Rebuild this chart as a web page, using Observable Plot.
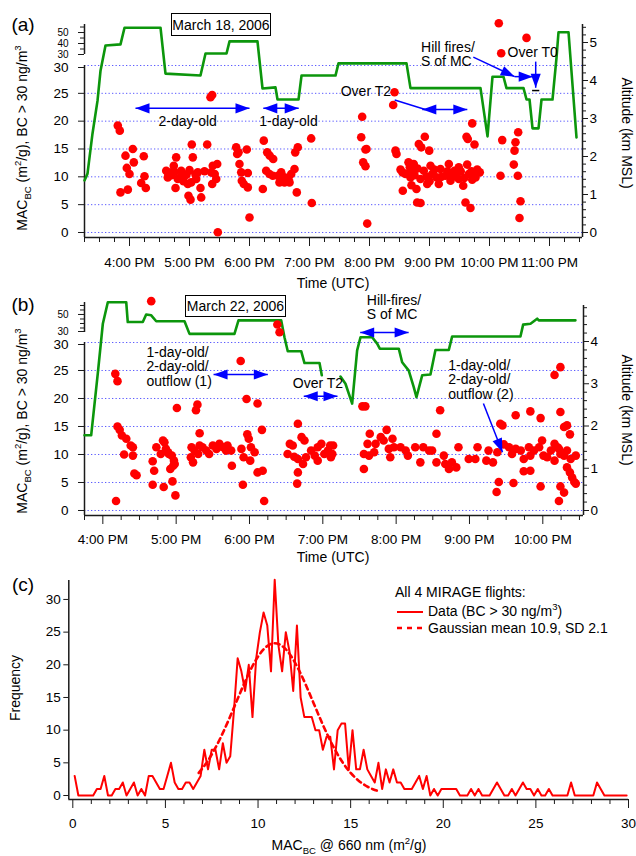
<!DOCTYPE html>
<html>
<head>
<meta charset="utf-8">
<script src="https://cdn.jsdelivr.net/npm/d3@7"></script>
<script src="https://cdn.jsdelivr.net/npm/@observablehq/plot@0.6"></script>
<style>
  html,body{margin:0;padding:0;background:#fff;}
  #root{position:relative;width:636px;height:856px;overflow:hidden;background:#fff;font-family:"Liberation Sans",Arial,Helvetica,sans-serif;color:#000;}
  #root > svg{position:absolute;left:0;top:0;}
  .t{position:absolute;white-space:nowrap;line-height:1;z-index:5;}
  .t sub,.t sup{font-size:0.68em;line-height:0;}
  .box{position:absolute;border:1.5px solid #000;box-sizing:border-box;display:flex;align-items:center;justify-content:center;font-size:14px;background:#fff;z-index:5;}
</style>
</head>
<body>
<div id="root"></div>
<script>
// ---------------- DATA ----------------
// Panel (a) March 18, 2006
const aTickHours = [16,17,18,19,20,21,22,23];
const aTickLabels = ["4:00 PM","5:00 PM","6:00 PM","7:00 PM","8:00 PM","9:00 PM","10:00 PM","11:00 PM"];
const aAltHour = [15.25,15.30,15.383,15.467,15.517,15.60,15.85,15.917,16.517,16.60,17.183,17.267,17.617,17.667,18.133,18.217,18.433,18.467,18.817,18.867,19.433,19.483,20.617,20.683,21.85,21.967,22.05,22.233,22.283,22.567,22.617,22.667,22.717,22.817,22.867,23.05,23.117,23.15,23.317,23.45];
const aAltKm = [1.37,1.55,2.6,3.47,4.26,4.92,4.95,5.39,5.39,4.18,4.13,4.71,4.71,5.03,5.03,3.79,3.82,3.5,3.5,4.13,4.13,4.45,4.45,3.8,3.8,2.53,4.1,4.1,3.8,3.8,3.5,3.5,2.74,2.74,3.5,3.5,4.6,5.27,5.27,2.5];
const aTime = [15.805,15.838,15.85,16.055,15.933,16.072,16.238,15.955,16.0,16.25,16.195,16.272,15.972,
16.612,16.638,16.738,16.778,16.695,16.805,16.862,16.917,17.055,17.038,16.767,16.972,17.028,16.983,17.017,17.138,17.112,17.183,17.195,17.295,17.35,17.378,17.362,17.388,17.462,17.445,17.378,17.472,
16.7,16.75,16.85,16.9,16.95,17.0,17.1,16.65,17.25,17.42,
17.778,17.795,17.817,17.955,17.833,17.862,17.972,17.872,17.905,17.972,18.0,
18.238,18.295,18.338,18.395,18.278,18.333,18.388,18.222,18.472,18.528,18.583,18.65,18.695,18.75,18.5,18.583,18.667,18.762,18.805,18.788,19.028,19.038,
19.878,19.862,19.933,19.95,19.895,19.933,19.962,
20.417,20.395,20.433,20.45,
20.517,20.6,20.672,20.683,20.85,20.905,20.962,21.017,21.045,21.117,21.155,21.183,21.267,21.322,21.35,21.417,21.488,21.488,21.562,21.628,21.655,21.712,21.795,21.838,21.767,
20.555,20.795,20.85,20.783,20.922,20.822,20.862,20.995,20.738,20.712,
21.6,21.683,21.617,21.638,21.75,21.712,
20.55,20.75,20.8,20.95,21.08,21.2,21.3,21.38,21.45,21.52,21.58,21.7,21.75,20.65,20.7,21.0,
22.155,22.617,22.195,
22.212,22.183,22.478,22.433,22.417,22.405,22.472,22.517,22.5];
const aMac = [19.2,18.3,7.2,15.0,13.8,12.6,13.7,11.6,10.5,10.1,8.9,8.0,7.7,
11.1,9.9,12.0,13.5,10.8,9.6,11.1,10.2,13.5,15.8,8.0,8.7,9.0,6.6,5.9,10.8,9.6,8.0,6.3,15.8,24.3,24.7,10.8,12.0,12.3,9.6,8.7,0.05,
10.3,10.9,10.0,9.2,10.4,11.2,10.4,10.5,11.0,10.5,
15.3,14.1,14.4,14.9,12.3,10.8,10.7,9.3,8.7,8.1,2.7,
16.5,14.4,13.8,13.2,11.1,10.5,10.2,7.8,10.2,10.8,9.9,9.6,10.5,11.4,9.0,9.0,9.0,14.4,15.3,7.2,16.9,5.3,
20.8,17.1,14.9,15.0,12.6,11.9,1.6,
25.2,22.9,14.7,14.1,
11.3,10.5,11.7,9.9,9.6,11.1,8.7,12.0,10.5,9.9,8.7,11.4,10.2,12.3,9.3,11.1,11.7,9.6,8.4,12.2,10.5,9.5,11.3,10.8,9.9,
7.5,5.4,5.3,7.8,17.2,15.9,15.3,14.7,12.3,11.1,
5.4,4.4,17.2,16.8,15.8,19.6,
10.8,10.3,11.5,10.0,11.3,10.0,11.0,10.4,10.0,11.0,9.8,11.0,10.4,12.6,8.5,9.2,
58.5,45.1,31.2,
16.6,10.2,18.0,16.2,14.7,12.2,10.2,5.6,2.6];

// Panel (b) March 22, 2006
const bTickHours = [16,17,18,19,20,21,22];
const bTickLabels = ["4:00 PM","5:00 PM","6:00 PM","7:00 PM","8:00 PM","9:00 PM","10:00 PM"];
const bAltHour = [15.75,15.841,15.931,16.0,16.068,16.319,16.34,16.545,16.591,16.66,16.728,17.114,17.182,17.795,17.85,18.432,18.477,18.522,18.705,18.75,18.955,18.986,19.1,19.241,19.309,19.4,19.468,19.514,19.673,19.741,19.777,20.036,20.082,20.172,20.24,20.277,20.355,20.468,20.536,20.718,20.764,21.695,21.732,21.832,21.923,21.945,22.445];
const bAltKm = [1.78,1.78,3.24,4.42,4.93,4.93,4.46,4.46,4.64,4.62,4.48,4.48,4.18,4.18,4.5,4.5,4.1,3.77,3.77,3.49,3.49,3.2,NaN,3.17,3.0,2.53,3.79,4.1,4.1,3.95,3.83,3.83,3.51,3.31,2.92,2.68,3.2,3.22,3.8,3.8,4.12,4.12,4.4,4.42,4.54,4.5,4.5];
const bTime = [16.66,
16.17,16.20,16.20,16.23,16.26,16.32,16.38,16.41,16.29,16.41,16.43,16.46,16.18,
16.68,16.73,16.79,16.84,16.86,16.89,16.94,16.97,16.98,16.92,16.70,16.68,16.83,16.95,16.99,17.01,16.82,16.90,16.96,
17.21,17.25,17.20,17.23,17.30,17.32,17.36,17.41,17.45,17.50,17.55,17.59,17.64,17.68,17.70,17.75,
17.29,17.27,17.32,17.76,
17.88,17.96,18.11,17.97,17.99,17.89,17.92,18.02,18.07,18.01,18.11,18.18,18.17,17.91,18.20,
18.38,18.41,
18.66,18.55,18.59,18.71,18.75,18.52,18.61,18.66,18.73,18.77,18.84,18.89,18.93,18.98,19.02,19.07,19.11,19.14,18.93,18.66,18.65,19.10,19.13,
19.54,19.58,19.64,19.61,19.56,19.63,19.56,
19.72,19.79,19.83,19.87,19.90,19.95,19.92,19.97,19.70,20.06,20.13,20.16,
20.26,20.33,20.37,20.45,20.49,20.55,20.55,20.60,
20.65,20.67,20.72,20.76,20.82,20.85,21.11,20.99,21.08,21.23,21.26,21.32,21.38,21.42,21.45,21.40,21.37,
21.47,21.54,21.58,21.63,21.70,21.74,21.81,21.83,21.88,21.95,21.99,22.01,22.06,22.11,22.16,22.22,22.29,22.33,22.38,22.45,
21.63,21.83,21.97,22.24,
21.74,21.83,21.60,21.97,22.22,22.29,22.24,
22.16,22.24,
22.29,22.33,22.37,
22.33,22.37,22.40,22.43,22.45,
22.16,22.20,22.24];
const bMac = [64.8,
24.4,23.1,15.0,14.4,13.4,12.8,11.6,11.3,10.0,9.8,6.6,6.3,1.7,
8.8,11.3,10.1,12.2,11.0,10.4,9.8,8.9,8.3,7.4,7.1,4.6,4.2,5.2,2.7,18.3,12.5,10.1,8.0,
11.3,10.7,9.5,8.6,10.1,11.6,11.3,10.7,10.1,11.6,11.0,11.9,11.3,10.7,11.6,10.7,
18.9,17.9,13.8,8.0,
26.7,19.9,19.1,13.6,12.8,11.0,9.5,11.3,10.4,8.9,6.8,7.1,14.4,4.6,1.7,
38.9,30.3,
15.5,11.9,11.6,13.1,12.5,10.1,9.6,9.2,8.3,9.5,10.7,9.8,11.3,11.9,10.1,10.7,9.5,11.6,8.9,6.8,4.8,11.6,10.1,
18.6,18.6,13.7,11.9,10.1,9.8,7.4,
11.9,13.1,12.5,14.4,11.0,12.8,9.5,11.3,10.4,11.3,10.7,9.8,
11.3,8.6,11.3,10.7,10.7,8.6,13.7,17.9,
9.8,8.3,7.4,8.6,7.7,11.3,11.3,9.2,9.2,8.9,10.7,8.6,10.4,15.5,15.2,5.1,3.3,
11.8,11.3,10.1,11.0,10.7,9.2,11.3,9.8,10.7,11.3,12.5,9.8,9.5,10.7,8.9,11.0,9.8,10.7,9.2,9.8,
17.0,17.7,16.5,17.6,
7.0,7.1,4.9,4.3,1.7,3.2,4.3,
24.2,25.6,
14.9,15.2,13.6,
7.7,6.8,5.9,5.1,4.8,
11.9,11.3,10.1];

// Panel (c) histogram, all 4 MIRAGE flights
const histBin = [0.1,0.3,0.5,0.7,0.9,1.1,1.3,1.5,1.7,1.9,
2.1,2.3,2.5,2.7,2.9,3.1,3.3,3.5,3.7,3.9,
4.1,4.3,4.5,4.7,4.9,5.1,5.3,5.5,5.7,5.9,
6.1,6.3,6.5,6.7,6.9,7.1,7.3,7.5,7.7,7.9,
8.1,8.3,8.5,8.7,8.9,9.1,9.3,9.5,9.7,9.9,
10.1,10.3,10.5,10.7,10.9,11.1,11.3,11.5,11.7,11.9,
12.1,12.3,12.5,12.7,12.9,13.1,13.3,13.5,13.7,13.9,
14.1,14.3,14.5,14.7,14.9,15.1,15.3,15.5,15.7,15.9,
16.1,16.3,16.5,16.7,16.9,17.1,17.3,17.5,17.7,17.9,
18.1,18.3,18.5,18.7,18.9,19.1,19.3,19.5,19.7,19.9,
20.1,20.3,20.5,20.7,20.9,21.1,21.3,21.5,21.7,21.9,
22.1,22.3,22.5,22.7,22.9,23.1,23.3,23.5,23.7,23.9,
24.1,24.3,24.5,24.7,24.9,25.1,25.3,25.5,25.7,25.9,
26.1,26.3,26.5,26.7,26.9,27.1,27.3,27.5,27.7,27.9,
28.1,28.3,28.5,28.7,28.9,29.1,29.3,29.5,29.7,29.9];
const histCount = [3,0,0,0,0,0,1,1,3,0,
0,1,1,2,0,1,2,0,1,0,
3,3,2,1,1,3,5,2,1,1,
2,2,1,2,3,7,4,7,7,4,
8,5,6,13,21,19,16,20,12,21,
25,28,26,19,33,23,19,25,22,16,
26,15,12,12,12,10,10,7,9,9,
4,10,11,11,4,10,4,4,7,4,
3,2,5,1,4,2,4,2,2,1,
1,1,2,3,1,3,0,1,0,1,
1,1,1,1,0,0,0,1,0,1,
0,0,0,1,2,1,0,0,1,0,
1,2,1,1,0,1,0,0,1,0,
0,0,0,0,2,0,0,0,0,0,
0,2,1,0,0,0,0,0,0,0];
const gaussX = [6.8,7.2,7.6,8.0,8.4,8.8,9.2,9.6,10.0,10.4,10.9,11.4,11.8,12.2,12.6,13.0,13.4,13.8,14.2,14.6,15.0,15.4,15.8,16.2,16.6];
const gaussY = [3.46,4.93,6.78,8.98,11.47,14.13,16.79,19.24,21.26,22.65,23.3,22.65,21.26,19.24,16.79,14.13,11.47,8.98,6.78,4.93,3.46,2.35,1.53,0.96,0.59];
const macTicks = [0,5,10,15,20,25,30];
const histXTicks = [0,5,10,15,20,25,30];
const histYTicks = [0,5,10,15,20,25,30];

// ---------------- BUILD ----------------
const zip2 = (xs, ys, kx, ky) => { const n = Math.min(xs.length, ys.length); const out = []; for (let i = 0; i < n; i++) out.push({[kx]: xs[i], [ky]: ys[i]}); return out; };
const aPts = zip2(aTime, aMac, "t", "mac");
const bPts = zip2(bTime, bMac, "t", "mac");
const aAlt = zip2(aAltHour, aAltKm, "t", "km");
const bAlt = zip2(bAltHour, bAltKm, "t", "km");
const hist = zip2(histBin, histCount, "x", "n");
const gauss = zip2(gaussX, gaussY, "x", "n");

const FONT = '"Liberation Sans", Arial, Helvetica, sans-serif';
const W = 636, H = 856;
const AX = "#1a1a1a";
const RED = "#ff0000";
const GREEN = "#0c960c";
const BLUE = "#0000ff";
const GRID = "#5b5bff";
const root = document.getElementById("root");

function add(opts) {
  const svg = Plot.plot(Object.assign({width: W, height: H,
    style: {background: "transparent", fontFamily: FONT, fontSize: "13.5px", color: "#000", overflow: "visible"}}, opts));
  root.appendChild(svg);
  return svg;
}
const HEAD = {draw(ctx, size) { const l = Math.sqrt(size / Math.PI); const w = l * 0.36;
  ctx.moveTo(0, 0); ctx.lineTo(-l, -w); ctx.lineTo(-l, w); ctx.closePath(); }};
function arrowMarks(segs) {
  const heads = [];
  segs.forEach(s => {
    if (s.a1 != null) heads.push({x: s.x1, y: s.y1, rot: s.a1});
    if (s.a2 != null) heads.push({x: s.x2, y: s.y2, rot: s.a2});
  });
  return [
    Plot.link(segs, {x1: "x1", y1: "y1", x2: "x2", y2: "y2", stroke: BLUE, strokeWidth: 1.5}),
    Plot.dot(heads, {x: "x", y: "y", rotate: "rot", symbol: HEAD, r: 14, fill: BLUE, stroke: "none"})
  ];
}
function timeAxes(ticks, labels, minor, tickPad) {
  return [
    Plot.axisX(ticks, {anchor: "bottom", tickSize: 9, tickPadding: tickPad, fontSize: 13.5, label: null, stroke: AX,
      tickFormat: d => labels[ticks.indexOf(d)]}),
    Plot.axisX(minor, {anchor: "bottom", tickSize: 5, tickFormat: () => "", label: null, stroke: AX})
  ];
}
function macAxis() {
  return [
    Plot.axisY(macTicks.filter(v => v < 30), {anchor: "left", tickSize: 6, tickPadding: 10, fontSize: 13.5, label: null, stroke: AX}),
    Plot.axisY([30], {anchor: "left", tickSize: 6, tickPadding: 10, fontSize: 13.5, label: null, stroke: AX, dy: 2})
  ];
}

// ===== Panel (a) =====
const aX = [15.25, 23.55], aY = [-0.9, 30], aUp = [30, 57.3], aAltDom = [-0.1316, 5.474];
const aM = {marginLeft: 84, marginRight: 54};
const aMinor = d3.range(15.25, 23.51, 0.25).filter(h => Math.abs(h - Math.round(h)) > 0.01);
add({...aM, marginTop: 65, marginBottom: H - 237, x: {domain: aX}, y: {domain: aY},
  marks: [
    Plot.ruleY(macTicks, {stroke: GRID, strokeWidth: 1, strokeDasharray: "1.3,2.2"}),
    Plot.ruleX([aX[0]], {y1: aY[0], y2: 30, stroke: AX, strokeWidth: 1.5}),
    Plot.ruleY([aY[0]], {stroke: AX, strokeWidth: 1.5}),
    ...macAxis(),
    ...timeAxes(aTickHours, aTickLabels, aMinor, 11),
    Plot.dot(aPts.filter(d => d.mac <= 30), {x: "t", y: "mac", r: 4.3, fill: RED})
  ]});
add({...aM, marginTop: 24, marginBottom: H - 237, x: {domain: aX, axis: null}, y: {domain: aAltDom},
  marks: [
    Plot.line(aAlt, {x: "t", y: "km", stroke: GREEN, strokeWidth: 2.6}),
    Plot.ruleX([aX[1]], {y1: aAltDom[0], y2: aAltDom[1], stroke: AX, strokeWidth: 1.5}),
    Plot.axisY([0,1,2,3,4,5], {anchor: "right", tickSize: 5, tickPadding: 2, fontSize: 13.5, label: null, stroke: AX}),
    Plot.axisY(d3.range(0.2, 5.41, 0.2).filter(v => Math.abs(v - Math.round(v)) > 0.01), {anchor: "right", tickSize: 3, tickFormat: () => "", label: null, stroke: AX})
  ]});
add({...aM, marginTop: 24, marginBottom: H - 54, x: {domain: aX, axis: null}, y: {domain: aUp},
  marks: [
    Plot.ruleX([aX[0]], {y1: aUp[0], y2: aUp[1], stroke: AX, strokeWidth: 1.5}),
    Plot.axisY([30, 40, 50], {anchor: "left", tickSize: 6, tickPadding: 10, fontSize: 10, label: null, stroke: AX}),
    Plot.axisY([35, 45, 55], {anchor: "left", tickSize: 4, tickFormat: () => "", label: null, stroke: AX}),
    Plot.dot(aPts.filter(d => d.mac > 30), {x: "t", y: "mac", r: 4.3, fill: RED})
  ]});
add({...aM, marginTop: 65, marginBottom: H - 237, x: {domain: aX, axis: null}, y: {domain: aY, axis: null},
  marks: [
    ...arrowMarks([
      {x1: 16.1, y1: 22.3, x2: 18.0, y2: 22.3, a1: 180, a2: 0},
      {x1: 18.23, y1: 22.3, x2: 18.82, y2: 22.3, a1: 180, a2: 0},
      {x1: 20.42, y1: 23.8, x2: 20.93, y2: 22.1},
      {x1: 20.88, y1: 22.1, x2: 21.63, y2: 22.1, a1: 180, a2: 0},
      {x1: 21.73, y1: 31.5, x2: 22.42, y2: 28.0, a2: 25},
      {x1: 22.42, y1: 28.0, x2: 22.72, y2: 28.0, a2: 0},
      {x1: 22.77, y1: 30.7, x2: 22.77, y2: 26.0, a2: 90}
    ]),
    Plot.link([{x1: 22.71, x2: 22.83, y: 25.5}], {x1: "x1", x2: "x2", y1: "y", y2: "y", stroke: "#000", strokeWidth: 1.5}),
    Plot.text([{x: 16.97, y: 19.9, s: "2-day-old"}, {x: 18.65, y: 19.9, s: "1-day-old"}],
      {x: "x", y: "y", text: "s", fontSize: 14, fill: "#000"}),
    Plot.text([{x: 19.52, y: 25.3, s: "Over T2"}, {x: 20.86, y: 32.0, s: "Hill fires/\nS of MC"}, {x: 22.3, y: 32.4, s: "Over T0"}],
      {x: "x", y: "y", text: "s", fontSize: 14, fill: "#000", textAnchor: "start", lineHeight: 1.05})
  ]});

// ===== Panel (b) =====
const bX = [15.75, 22.555], bY = [-0.893, 30], bUp = [30, 63.3], bAltDom = [-0.118, 4.852];
const bM = {marginLeft: 84, marginRight: 53};
const bMinor = d3.range(15.75, 22.51, 0.25).filter(h => Math.abs(h - Math.round(h)) > 0.01);
add({...bM, marginTop: 342, marginBottom: H - 515, x: {domain: bX}, y: {domain: bY},
  marks: [
    Plot.ruleY(macTicks, {stroke: GRID, strokeWidth: 1, strokeDasharray: "1.3,2.2"}),
    Plot.ruleX([bX[0]], {y1: bY[0], y2: 30, stroke: AX, strokeWidth: 1.5}),
    Plot.ruleY([bY[0]], {stroke: AX, strokeWidth: 1.5}),
    ...macAxis(),
    ...timeAxes(bTickHours, bTickLabels, bMinor, 10),
    Plot.dot(bPts.filter(d => d.mac <= 30), {x: "t", y: "mac", r: 4.3, fill: RED})
  ]});
add({...bM, marginTop: 305, marginBottom: H - 515, x: {domain: bX, axis: null}, y: {domain: bAltDom},
  marks: [
    Plot.line(bAlt, {x: "t", y: "km", stroke: GREEN, strokeWidth: 2.6}),
    Plot.ruleX([bX[1]], {y1: bAltDom[0], y2: bAltDom[1], stroke: AX, strokeWidth: 1.5}),
    Plot.axisY([0,1,2,3,4], {anchor: "right", tickSize: 5, tickPadding: 2, fontSize: 13.5, label: null, stroke: AX}),
    Plot.axisY(d3.range(0.2, 4.81, 0.2).filter(v => Math.abs(v - Math.round(v)) > 0.01), {anchor: "right", tickSize: 3, tickFormat: () => "", label: null, stroke: AX})
  ]});
add({...bM, marginTop: 302, marginBottom: H - 332, x: {domain: bX, axis: null}, y: {domain: bUp},
  marks: [
    Plot.ruleX([bX[0]], {y1: bUp[0], y2: bUp[1], stroke: AX, strokeWidth: 1.5}),
    Plot.axisY([50], {anchor: "left", tickSize: 6, tickPadding: 10, fontSize: 10, label: null, stroke: AX}),
    Plot.axisY([30], {anchor: "left", tickSize: 6, tickPadding: 10, fontSize: 10, label: null, stroke: AX, dy: -1}),
    Plot.axisY([35, 40, 45, 55, 60], {anchor: "left", tickSize: 4, tickFormat: () => "", label: null, stroke: AX}),
    Plot.dot(bPts.filter(d => d.mac > 30), {x: "t", y: "mac", r: 4.3, fill: RED})
  ]});
add({...bM, marginTop: 342, marginBottom: H - 515, x: {domain: bX, axis: null}, y: {domain: bY, axis: null},
  marks: [
    ...arrowMarks([
      {x1: 17.51, y1: 24.3, x2: 18.25, y2: 24.3, a1: 180, a2: 0},
      {x1: 18.74, y1: 20.4, x2: 19.2, y2: 20.4, a1: 180, a2: 0},
      {x1: 19.51, y1: 31.8, x2: 20.17, y2: 31.8, a1: 180, a2: 0},
      {x1: 21.19, y1: 19.1, x2: 21.45, y2: 10.4, a2: 68}
    ]),
    Plot.text([
      {x: 16.595, y: 25.7, s: "1-day-old/\n2-day-old/\noutflow (1)"},
      {x: 18.59, y: 22.7, s: "Over T2"},
      {x: 19.6, y: 36.3, s: "Hill-fires/\nS of MC"},
      {x: 20.71, y: 23.4, s: "1-day-old/\n2-day-old/\noutflow (2)"}
    ], {x: "x", y: "y", text: "s", fontSize: 14, fill: "#000", textAnchor: "start", lineHeight: 1.04})
  ]});

// ===== Panel (c) =====
const cX = [-0.216, 30], cY = [-0.61, 32.9];
add({marginLeft: 68.3, marginRight: 8, marginTop: 580, marginBottom: H - 799,
  x: {domain: cX}, y: {domain: cY},
  marks: [
    Plot.ruleX([cX[0]], {y1: cY[0], y2: cY[1], stroke: AX, strokeWidth: 1.5}),
    Plot.ruleY([cY[0]], {stroke: AX, strokeWidth: 1.5}),
    Plot.axisY(histYTicks, {anchor: "left", tickSize: 5, tickPadding: 3, fontSize: 13.5, label: null, stroke: AX}),
    Plot.axisX(histXTicks, {anchor: "bottom", tickSize: 9, tickPadding: 10, fontSize: 13.5, label: null, stroke: AX}),
    Plot.axisX(d3.range(1, 30).filter(v => v % 5 !== 0), {anchor: "bottom", tickSize: 5, tickFormat: () => "", label: null, stroke: AX}),
    Plot.line(hist, {x: "x", y: "n", stroke: RED, strokeWidth: 2}),
    Plot.line(gauss, {x: "x", y: "n", stroke: RED, strokeWidth: 2.6, strokeDasharray: "5,4", curve: "natural"})
  ]});

// ---------------- TEXT ----------------
function label(html, x, y, o = {}) {
  const d = document.createElement("div");
  d.className = "t"; d.innerHTML = html;
  d.style.left = x + "px"; d.style.top = y + "px"; d.style.fontSize = (o.size || 14) + "px";
  const tx = o.anchor === "start" ? "0" : o.anchor === "end" ? "-100%" : "-50%";
  d.style.transform = `translate(${tx},-50%)` + (o.rot ? ` rotate(${o.rot}deg)` : "");
  root.appendChild(d);
}
function box(text, l, t, w, h) {
  const d = document.createElement("div");
  d.className = "box"; d.textContent = text;
  Object.assign(d.style, {left: l + "px", top: t + "px", width: w + "px", height: h + "px"});
  root.appendChild(d);
}
const macLabel = 'MAC<sub>BC</sub> (m<sup>2</sup>/g), BC &gt; 30 ng/m<sup>3</sup>';
label("(a)", 23, 24, {size: 19});
label("(b)", 23, 304, {size: 19});
label("(c)", 23, 584, {size: 19});
box("March 18, 2006", 171, 13, 100, 23);
box("March 22, 2006", 185, 295, 101, 22);
label("Time (UTC)", 333, 283);
label("Time (UTC)", 333, 557);
label(macLabel, 22, 138, {rot: -90});
label(macLabel, 22, 421, {rot: -90});
label("Altitude (km MSL)", 627, 133, {rot: 90});
label("Altitude (km MSL)", 627, 410, {rot: 90});
label("Frequency", 15, 688, {rot: -90});
label('MAC<sub>BC</sub> @ 660 nm (m<sup>2</sup>/g)', 349, 845);
label("All 4 MIRAGE flights:", 395, 592, {anchor: "start"});
label('Data (BC &gt; 30 ng/m<sup>3</sup>)', 428, 611, {anchor: "start"});
label("Gaussian mean 10.9, SD 2.1", 428, 628, {anchor: "start"});
// legend line samples
const ns = "http://www.w3.org/2000/svg";
const lg = document.createElementNS(ns, "svg");
lg.setAttribute("width", W); lg.setAttribute("height", H);
lg.style.position = "absolute"; lg.style.left = "0"; lg.style.top = "0";
lg.innerHTML = `<line x1="397" x2="423" y1="612" y2="612" stroke="${RED}" stroke-width="2"/>
<line x1="397" x2="423" y1="628" y2="628" stroke="${RED}" stroke-width="2.6" stroke-dasharray="5,5"/>`;
root.appendChild(lg);
</script>
</body>
</html>
